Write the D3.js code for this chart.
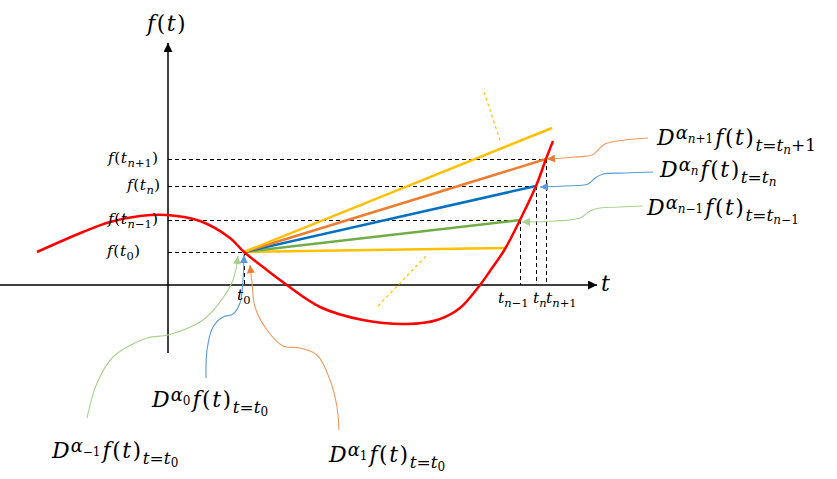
<!DOCTYPE html>
<html><head><meta charset="utf-8">
<script src="https://cdn.jsdelivr.net/npm/d3@7"></script>
<style>body{margin:0;background:#fff}svg{display:block}</style>
</head><body><svg id="c" width="837" height="479"></svg>
<script>
// ---------- data (units: abstract t / f values) ----------
const curveT = [-13.1,-8.5,-5.8,-2.8,-0.1,3.2,6.2,7.6,9.5,11.2,15.2,19.5,23.9,26.9,29.2,31.2,32.2,33.7,35.2,36.8,37.8,38.5];
const curveF = [3.3,5.3,6.3,6.9,7.0,6.4,4.7,3.3,1.8,0.5,-2.2,-3.5,-3.9,-3.5,-2.3,0.0,1.4,3.6,6.5,9.9,12.6,14.4];

const pointNames = ["t_0","t_{n-1}","t_n","t_{n+1}"];
const pointT = [7.6, 35.2, 36.8, 37.8];
const pointF = [3.3, 6.5, 9.9, 12.6];

// chords from (t0,f(t0)) : end points
const chordColors = ["#FFC000","#70AD47","#0070C0","#ED7D31","#FFC000"];
const chordEndT = [33.7, 35.2, 36.8, 37.8, 38.4];
const chordEndF = [3.7, 6.5, 9.9, 12.6, 15.7];

// dashed yellow guides
const guideT = [[31.6,33.2],[21.0,26.0]];
const guideF = [[19.3,14.5],[-2.1,3.1]];

// annotation leader curves (start = arrow tip)
const annoColors = ["#F19A5E","#5B9BD5","#A9D18E","#A9D18E","#5B9BD5","#F19A5E"];
const annoHead   = ["#ED7D31","#5B9BD5","#A9D18E","#A9D18E","#5B9BD5","#ED7D31"];
const annoT = [
  [37.9,40.7,42.4,43.0,43.7,45.7,48.0],
  [37.2,39.7,42.0,42.7,43.5,45.7,48.5],
  [35.4,38.7,41.2,42.2,43.2,45.2,47.5],
  [7.0,6.5,5.2,3.5,0.0,-2.1,-5.5,-7.1,-8.1],
  [7.6,7.5,7.2,6.5,5.5,4.5,3.9,3.8],
  [8.2,8.4,8.7,9.9,11.5,13.2,14.9,16.2,16.9,17.1]
];
const annoF = [
  [12.6,12.8,13.0,13.5,14.1,14.5,14.7],
  [9.8,9.9,10.1,10.7,11.1,11.2,11.3],
  [6.3,6.4,6.7,7.4,7.7,7.8,7.9],
  [2.9,0.5,-1.7,-3.5,-5.0,-5.3,-7.2,-9.8,-13.3],
  [3.0,0.5,-1.8,-2.9,-3.2,-4.2,-6.5,-9.3],
  [2.0,0.2,-2.2,-4.5,-6.1,-6.3,-7.0,-9.5,-12.2,-14.5]
];

const xAxisExtent = [-16.8, 42.9];
const yAxisExtent = [-6.8, 24.2];

// ---------- scales ----------
const W = 837, H = 479;
const xs = d3.scaleLinear().domain([-16.8, 66.9]).range([0, W]);
const ys = d3.scaleLinear().domain([-19.4, 28.5]).range([H, 0]);
const svg = d3.select("#c");
const FONT = "'DejaVu Serif', serif";

const defs = svg.append("defs");
function marker(id, color, w, h) {
  defs.append("marker").attr("id", id).attr("viewBox", "0 0 10 10")
    .attr("refX", 10).attr("refY", 5).attr("markerWidth", w).attr("markerHeight", h)
    .attr("markerUnits", "userSpaceOnUse").attr("orient", "auto-start-reverse")
    .append("path").attr("d", "M0,0L10,5L0,10z").attr("fill", color);
}
marker("axArrow", "#000", 11, 9);
annoHead.forEach((c, i) => marker("ah" + i, c, 9, 8));

// ---------- axes ----------
svg.append("line").attr("x1", xs(xAxisExtent[0])).attr("x2", xs(xAxisExtent[1]))
  .attr("y1", ys(0)).attr("y2", ys(0)).attr("stroke", "#000").attr("stroke-width", 1.5)
  .attr("marker-end", "url(#axArrow)");
svg.append("line").attr("x1", xs(0)).attr("x2", xs(0))
  .attr("y1", ys(yAxisExtent[0])).attr("y2", ys(yAxisExtent[1])).attr("stroke", "#000").attr("stroke-width", 1.5)
  .attr("marker-end", "url(#axArrow)");

// dashed reference lines
pointT.forEach((t, i) => {
  svg.append("line").attr("x1", xs(0)).attr("x2", xs(t)).attr("y1", ys(pointF[i])).attr("y2", ys(pointF[i]))
    .attr("stroke", "#000").attr("stroke-width", 1).attr("stroke-dasharray", "4,3")
    .attr("shape-rendering", "crispEdges");
  svg.append("line").attr("x1", xs(t)).attr("x2", xs(t)).attr("y1", ys(pointF[i])).attr("y2", ys(0))
    .attr("stroke", "#000").attr("stroke-width", 1).attr("stroke-dasharray", "4,3")
    .attr("shape-rendering", "crispEdges");
});

// yellow dashed guides
guideT.forEach((g, i) => {
  svg.append("line").attr("x1", xs(g[0])).attr("x2", xs(g[1])).attr("y1", ys(guideF[i][0])).attr("y2", ys(guideF[i][1]))
    .attr("stroke", "#FFC000").attr("stroke-width", 1.2).attr("stroke-dasharray", "3,3");
});

// chords
chordEndT.forEach((t, i) => {
  svg.append("line").attr("x1", xs(pointT[0])).attr("y1", ys(pointF[0]))
    .attr("x2", xs(t)).attr("y2", ys(chordEndF[i]))
    .attr("stroke", chordColors[i]).attr("stroke-width", 2.5);
});

// red curve
const line = d3.line().x(d => xs(d[0])).y(d => ys(d[1])).curve(d3.curveCatmullRom.alpha(0.5));
svg.append("path").attr("d", line(curveT.map((t, i) => [t, curveF[i]])))
  .attr("fill", "none").attr("stroke", "#FF0000").attr("stroke-width", 2.5);

// annotation leaders
annoT.forEach((arr, i) => {
  svg.append("path").attr("d", line(arr.map((t, j) => [t, annoF[i][j]])))
    .attr("fill", "none").attr("stroke", annoColors[i]).attr("stroke-width", 1.1)
    .attr("marker-start", "url(#ah" + i + ")");
});

// ---------- math text ----------
function mathText(x, y, segs, anchor) {
  const t = svg.append("text").attr("x", x).attr("y", y).attr("font-family", FONT)
    .attr("text-anchor", anchor || "start").attr("fill", "#000");
  let prev = 0;
  segs.forEach(seg => {
    const [s, size, off, dx, ls] = seg;
    const runs = s.match(/[A-Za-zα]+|[^A-Za-zα]+/g);
    runs.forEach((r, k) => {
      const ts = t.append("tspan").attr("font-size", size)
        .attr("font-style", /[A-Za-zα]/.test(r) ? "italic" : "normal").text(r);
      if (ls) ts.attr("letter-spacing", ls);
      if (k === 0) { ts.attr("dy", off - prev); if (dx) ts.attr("dx", dx); }
    });
    prev = off;
  });
  return t;
}
const M = 22, S = 17, SA = 18, SS = 12;

// axis titles
mathText(xs(0) - 21, 31, [["f(t)", M, 0, 0, 1.5]]);
mathText(xs(xAxisExtent[1]) + 4, 291, [["t", M, 0]]);

// y labels
const yLabelSegs = [
  [["f(t", 15.5, 0, 0, 0.5], ["0", 11.5, 4], [")", 15.5, 0]],
  [["f(t", 15.5, 0, 0, 0.5], ["n−1", 11.5, 4], [")", 15.5, 0]],
  [["f(t", 15.5, 0, 0, 0.5], ["n", 11.5, 4], [")", 15.5, 0]],
  [["f(t", 15.5, 0, 0, 0.5], ["n+1", 11.5, 4], [")", 15.5, 0]]
];
const yLabelRight = [140, 158, 160, 158];
pointF.forEach((f, i) => mathText(yLabelRight[i], ys(f) + 4, yLabelSegs[i], "end"));

// x tick labels
const xLabelSegs = [
  [["t", 15.5, 0], ["0", 11.5, 4]],
  [["t", 15.5, 0], ["n−1", 11.5, 4]],
  [["t", 15.5, 0], ["n", 11.5, 4]],
  [["t", 15.5, 0], ["n+1", 11.5, 4]]
];
const xLabelX = [237, 498, 533, 546];
const xLabelY = [300, 303, 303, 303];
pointT.forEach((t, i) => mathText(xLabelX[i], xLabelY[i], xLabelSegs[i]));

// annotation labels
function dLabel(x, y, alphaSub, evalSub, evalTail) {
  const segs = [["D", M, 0], ["α", SA, -6, 1], [alphaSub, SS, -2], ["f(t)", M, 0, 2, 1.5], ["t=t", S, 6], [evalSub, SS, 9]];
  if (evalTail) segs.push([evalTail, S, 6]);
  mathText(x, y, segs);
}
dLabel(657, 145, "n+1", "n", "+1");
dLabel(660, 177, "n", "n");
dLabel(647, 215, "n−1", "n−1");
dLabel(152, 407, "0", "0");
dLabel(52, 458, "−1", "0");
dLabel(329, 462, "1", "0");
</script></body></html>
